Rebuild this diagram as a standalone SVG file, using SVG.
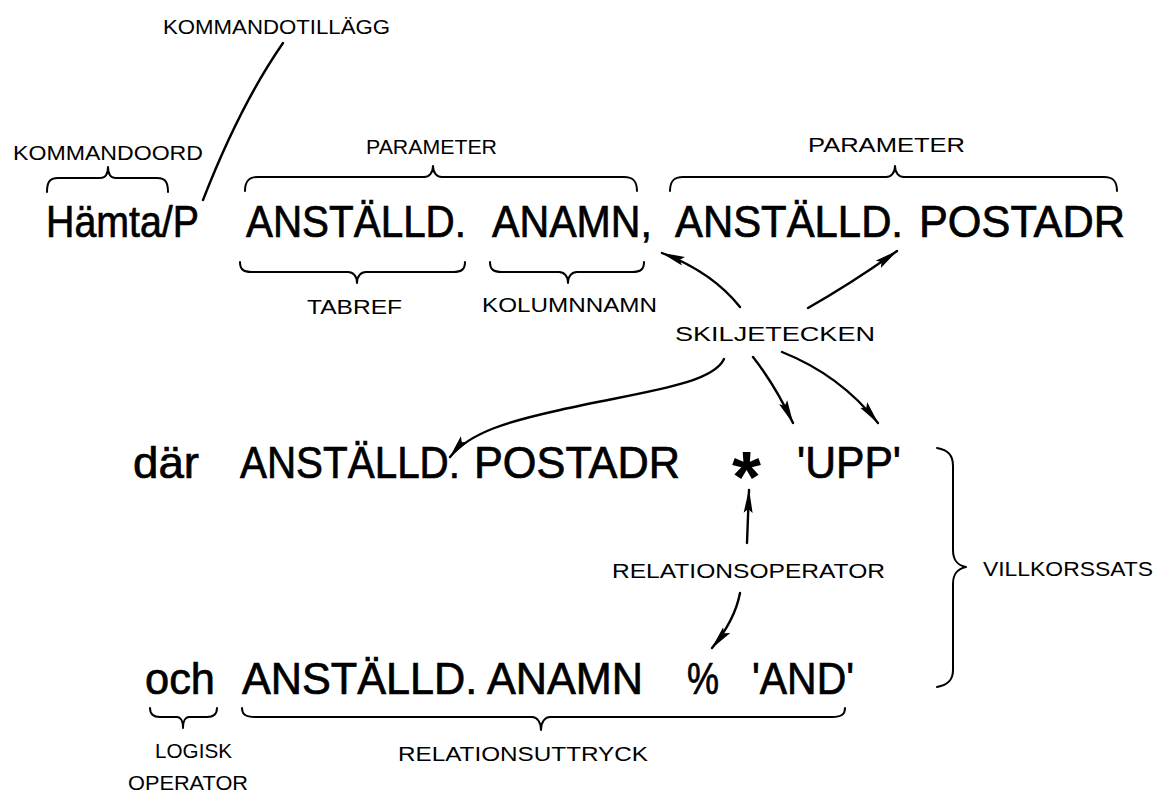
<svg xmlns="http://www.w3.org/2000/svg" width="1171" height="796" viewBox="0 0 1171 796">
  <defs>
    <marker id="head" markerUnits="userSpaceOnUse" viewBox="0 0 24 10" markerWidth="24" markerHeight="10" refX="23" refY="5" orient="auto">
      <path d="M0,0.5 L24,5 L0,9.5 L4,5 Z" fill="#000"/>
    </marker>
  </defs>
  <style>
    .big { font-family: "Liberation Sans", Arial, sans-serif; font-size: 44px; fill: #000; stroke: #000; stroke-width: 0.7; }
    .hand { font-family: "Liberation Sans", Arial, sans-serif; font-size: 21px; fill: #000; }
    .brace { fill: none; stroke: #000; stroke-width: 2; stroke-linecap: round; stroke-linejoin: round; }
    .conn { fill: none; stroke: #000; stroke-width: 2.4; stroke-linecap: round; }
    .arrow { fill: none; stroke: #000; stroke-width: 2.4; stroke-linecap: round; marker-end: url(#head); }
  </style>
  <rect width="1171" height="796" fill="#fff"/>

  <!-- statement row 1 -->
  <g id="row1">
    <text class="big" x="46" y="237" textLength="153" lengthAdjust="spacingAndGlyphs">Hämta/P</text>
    <text class="big" x="246" y="237" textLength="220" lengthAdjust="spacingAndGlyphs">ANSTÄLLD.</text>
    <text class="big" x="492" y="237" textLength="160" lengthAdjust="spacingAndGlyphs">ANAMN,</text>
    <text class="big" x="675" y="237" textLength="228" lengthAdjust="spacingAndGlyphs">ANSTÄLLD.</text>
    <text class="big" x="919" y="237" textLength="206" lengthAdjust="spacingAndGlyphs">POSTADR</text>
  </g>

  <!-- statement row 2 -->
  <g id="row2">
    <text class="big" x="133" y="478" textLength="66" lengthAdjust="spacingAndGlyphs">där</text>
    <text class="big" x="240" y="478" textLength="220" lengthAdjust="spacingAndGlyphs">ANSTÄLLD.</text>
    <text class="big" x="474" y="478" textLength="206" lengthAdjust="spacingAndGlyphs">POSTADR</text>
    <text x="732" y="502" textLength="29" lengthAdjust="spacingAndGlyphs" style="font-family: 'Liberation Sans', Arial, sans-serif; font-weight: bold; font-size: 72px; fill: #000;">*</text>
    <text class="big" x="797" y="478" textLength="104" lengthAdjust="spacingAndGlyphs">'UPP'</text>
  </g>

  <!-- statement row 3 -->
  <g id="row3">
    <text class="big" x="145" y="694" textLength="70" lengthAdjust="spacingAndGlyphs">och</text>
    <text class="big" x="242" y="694" textLength="401" lengthAdjust="spacingAndGlyphs">ANSTÄLLD. ANAMN</text>
    <text class="big" x="687" y="694" textLength="32" lengthAdjust="spacingAndGlyphs">%</text>
    <text class="big" x="752" y="694" textLength="102" lengthAdjust="spacingAndGlyphs">'AND'</text>
  </g>

  <!-- labels -->
  <g id="kommandotillagg">
    <text class="hand" x="163" y="34" textLength="227" lengthAdjust="spacingAndGlyphs">KOMMANDOTILLÄGG</text>
  </g>
  <g id="kommandoord">
    <text class="hand" x="13" y="160" textLength="190" lengthAdjust="spacingAndGlyphs">KOMMANDOORD</text>
    <path class="brace" d="M47,192 C47,183 49,178 58,178 L100,178 C105,178 108,174 108,167 C108,174 111,178 116,178 L157,178 C166,178 168,183 168,192"/>
  </g>
  <g id="parameter1">
    <text class="hand" x="366" y="154" textLength="131" lengthAdjust="spacingAndGlyphs">PARAMETER</text>
    <path class="brace" d="M245,191 C245,182 248,177 258,177 L424,177 C429,177 433,173 433,166 C433,173 437,177 442,177 L624,177 C634,177 637,182 637,191"/>
  </g>
  <g id="parameter2">
    <text class="hand" x="808" y="152" textLength="157" lengthAdjust="spacingAndGlyphs">PARAMETER</text>
    <path class="brace" d="M670,191 C670,182 673,177 683,177 L886,177 C891,177 895,173 895,166 C895,173 899,177 904,177 L1104,177 C1114,177 1117,182 1117,191"/>
  </g>
  <g id="tabref">
    <path class="brace" d="M240,262 C240,269 243,272 252,272 L348,272 C353,272 357,276 357,283 C357,276 361,272 366,272 L453,272 C462,272 465,269 465,262"/>
    <text class="hand" x="307" y="314" textLength="95" lengthAdjust="spacingAndGlyphs">TABREF</text>
  </g>
  <g id="kolumnnamn">
    <path class="brace" d="M490,262 C490,269 493,272 502,272 L559,272 C564,272 568,276 568,283 C568,276 572,272 577,272 L632,272 C641,272 644,269 644,262"/>
    <text class="hand" x="482" y="312" textLength="175" lengthAdjust="spacingAndGlyphs">KOLUMNNAMN</text>
  </g>
  <g id="skiljetecken">
    <text class="hand" x="675" y="341" textLength="200" lengthAdjust="spacingAndGlyphs">SKILJETECKEN</text>
  </g>
  <g id="relationsoperator">
    <text class="hand" x="612" y="578" textLength="273" lengthAdjust="spacingAndGlyphs">RELATIONSOPERATOR</text>
  </g>
  <g id="villkorssats">
    <path class="brace" d="M937,448 C948,450 953,455 953,466 L953,550 C953,560 957,565 966,567 C957,569 953,574 953,584 L953,670 C953,680 948,685 937,687"/>
    <text class="hand" x="983" y="576" textLength="170" lengthAdjust="spacingAndGlyphs">VILLKORSSATS</text>
  </g>
  <g id="logisk-operator">
    <path class="brace" d="M150,708 C150,714 153,717 160,717 L177,717 C181,717 183,722 183,728 C183,722 185,717 189,717 L207,717 C214,717 217,714 217,708"/>
    <text class="hand" x="155" y="758" textLength="77" lengthAdjust="spacingAndGlyphs">LOGISK</text>
    <text class="hand" x="128" y="790" textLength="120" lengthAdjust="spacingAndGlyphs">OPERATOR</text>
  </g>
  <g id="relationsuttryck">
    <path class="brace" d="M242,708 C242,714 245,717 255,717 L532,717 C537,717 541,722 541,730 C541,722 545,717 550,717 L832,717 C842,717 845,714 845,708"/>
    <text class="hand" x="398" y="761" textLength="250" lengthAdjust="spacingAndGlyphs">RELATIONSUTTRYCK</text>
  </g>

  <!-- connectors -->
  <g id="connectors">
    <path class="conn" d="M283,43 Q240,105 203,200"/>
    <path class="arrow" d="M740,307 Q712,272 662,253"/>
    <path class="arrow" d="M808,308 Q852,283 897,251"/>
    <path class="arrow" d="M724,359 C712,385 640,392 560,410 C510,421 470,432 450,457"/>
    <path class="arrow" d="M753,357 Q775,385 793,423"/>
    <path class="arrow" d="M782,352 Q840,375 878,423"/>
    <path class="arrow" d="M747,543 L749,490"/>
    <path class="arrow" d="M740,593 Q735,620 712,648"/>
  </g>
</svg>
